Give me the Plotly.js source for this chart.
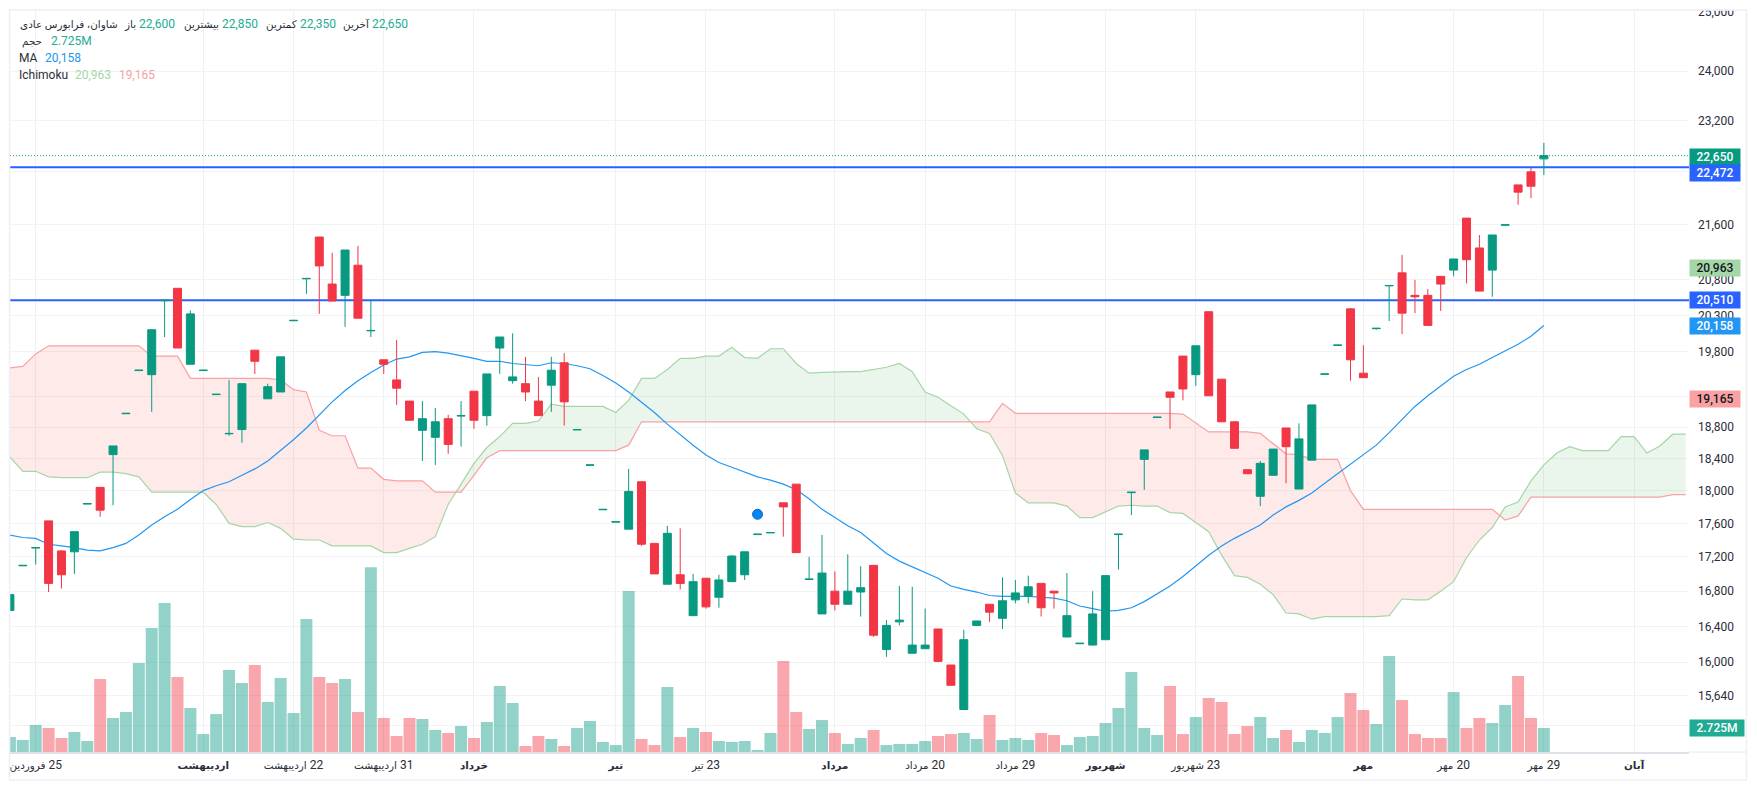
<!DOCTYPE html>
<html><head><meta charset="utf-8">
<script src="https://cdn.plot.ly/plotly-3.0.1.min.js"></script>
<style>html,body{margin:0;padding:0;background:#fff}#c{width:1757px;height:790px}</style>
</head><body><div id="c"></div>
<script>
const open_=[16580,17095,17305,17630,17270,17260,17835,18040,18450,18975,19545,19490,20505,20680,19630,19545,19225,18715,18770,19820,19170,19260,20225,20815,21420,20740,20580,21010,20085,19690,19420,19140,18760,18670,18910,18945,19270,18950,19850,19410,19370,19140,19350,19650,18765,18315,17765,17615,17530,18110,17360,16880,16990,16520,16950,16730,16910,16990,17465,17485,17850,18080,16935,16540,16800,16650,16790,17100,16140,16450,16100,16150,16370,15970,15490,16410,16650,16490,16700,16740,16890,16800,16280,16205,16190,16250,17465,17975,18390,18925,19260,19740,19490,20350,19430,18870,18260,17930,18190,18790,18020,18380,19495,19885,20390,19510,20115,20715,20900,20580,20580,20850,20940,21700,21260,20940,21595,22200,22400,22600];
const high=[16760,17100,17310,17630,17280,17500,17840,18040,18560,18980,19550,20100,20510,20680,20370,19550,19230,19420,19370,19820,19370,19730,20230,20820,21420,21190,21230,21290,20510,19690,19960,19140,19140,19050,18960,19140,19270,19500,20000,20050,19730,19460,19730,19780,18770,18320,17770,17620,18270,18110,17360,17570,17540,17000,16950,16990,17220,17260,17470,17490,17850,18080,17200,17460,17030,17230,17090,17100,16470,16860,16850,16600,16370,15970,16360,16460,16650,16960,16930,16980,16890,16800,17010,16210,16800,16980,17470,17980,18510,18930,19260,19740,19880,20350,19430,18880,18260,18370,18520,18790,18850,19090,19500,19890,20400,19890,20120,20720,21160,20800,20670,20850,21100,21700,21450,21450,21600,22200,22460,22850];
const low=[16580,17095,17110,16790,16830,17000,17835,17680,17820,18975,19545,19000,20000,19850,19630,19545,19225,18690,18600,19500,19170,19260,20225,20600,20320,20500,20140,20260,20000,19500,19090,18890,18370,18320,18460,18550,18780,18820,19500,19370,19140,18950,19000,18820,18765,18315,17765,17615,17530,17330,17000,16880,16820,16520,16600,16610,16910,16930,17465,17485,17440,17250,16935,16540,16580,16650,16510,16280,16060,16410,16100,16150,16000,15750,15490,16410,16450,16370,16660,16660,16510,16600,16280,16205,16190,16250,17050,17700,18010,18925,18780,19150,19340,19210,18870,18530,18210,17810,18190,18090,18020,18380,19495,19885,19410,19450,20100,20220,20040,20330,20160,20360,20850,20750,20640,20560,21595,21900,22000,22350];
const close_=[16760,17100,17310,16890,16990,17500,17840,17760,18560,18980,19550,20100,20510,19850,20320,19550,19230,18720,19370,19670,19330,19730,20230,20820,21000,20500,21230,20260,20090,19630,19310,18890,18910,18870,18580,18950,18890,19500,20000,19460,19260,18950,19550,19130,18770,18320,17770,17620,17990,17350,17000,17480,16890,16910,16620,16930,17210,17260,17470,17490,17800,17250,16940,17010,16650,16800,16840,16300,16410,16470,16190,16190,16010,15750,16250,16460,16560,16690,16780,16850,16610,16780,16520,16210,16540,16980,17470,17980,18510,18930,19190,19300,19880,19210,18870,18530,18210,18340,18520,18550,18650,19090,19500,19890,19690,19450,20120,20720,20330,20560,20160,20740,21100,21090,20640,21450,21600,22090,22180,22650];
const volumeM=[1.70,1.36,3.07,2.73,1.59,2.27,1.25,8.29,3.86,4.54,10.11,14.08,16.92,8.52,5.00,2.04,4.31,9.31,7.83,9.88,5.68,8.40,4.43,15.10,8.52,7.83,8.29,4.54,20.97,3.86,1.82,3.86,3.75,2.50,2.16,2.95,1.59,3.41,7.49,5.56,0.68,1.82,1.48,0.68,2.73,3.52,1.14,0.79,18.28,1.48,0.79,7.38,1.70,2.73,2.27,1.25,1.14,1.25,0.23,2.16,10.33,4.54,2.61,3.63,2.16,0.91,1.59,2.50,0.79,0.91,0.91,1.25,1.82,2.04,2.16,1.48,4.20,1.36,1.59,1.36,2.16,1.93,0.79,1.70,1.82,3.29,5.00,9.08,2.73,1.93,7.49,2.04,3.97,6.13,5.68,2.04,2.95,3.97,1.59,2.50,1.14,2.50,2.16,3.97,6.70,4.77,3.18,10.90,5.90,2.04,1.59,1.59,6.81,2.73,3.86,3.29,5.34,8.63,3.86,2.725];
const movingAvg=[17460,17430,17420,17350,17330,17310,17280,17270,17310,17360,17460,17580,17680,17770,17890,18000,18060,18110,18190,18270,18370,18500,18640,18790,18960,19130,19280,19410,19520,19620,19700,19730,19790,19800,19780,19750,19710,19670,19670,19640,19620,19610,19650,19640,19610,19570,19480,19380,19260,19130,18990,18840,18700,18570,18445,18350,18290,18230,18170,18130,18080,18010,17900,17770,17670,17570,17490,17360,17240,17150,17080,17010,16950,16860,16820,16790,16750,16740,16740,16740,16730,16720,16690,16630,16600,16570,16580,16610,16680,16770,16860,16970,17100,17220,17330,17420,17500,17580,17700,17800,17880,17970,18090,18210,18330,18450,18570,18730,18900,19070,19210,19340,19470,19560,19630,19720,19810,19900,20010,20158];
const spanA=[18420,18240,18240,18170,18160,18160,18160,18230,18230,18210,18170,17980,17980,17980,17980,17980,17830,17600,17560,17560,17610,17540,17410,17400,17400,17330,17330,17330,17330,17250,17250,17300,17350,17440,17830,18080,18340,18540,18680,18850,18850,18880,19100,19070,19070,19070,19070,18990,19150,19440,19440,19560,19710,19710,19740,19740,19860,19720,19710,19840,19840,19640,19510,19520,19530,19530,19530,19560,19590,19640,19530,19260,19190,19080,18970,18780,18720,18440,17970,17850,17850,17850,17810,17670,17670,17740,17810,17820,17810,17810,17730,17720,17610,17500,17220,16980,16960,16880,16760,16550,16540,16480,16510,16510,16510,16510,16510,16520,16710,16700,16700,16800,16910,17190,17400,17550,17800,17860,18120,18320,18470,18550,18500,18500,18500,18680,18680,18470,18560,18710,18710];
const spanB=[19580,19600,19770,19880,19880,19880,19880,19880,19880,19880,19880,19740,19740,19740,19440,19440,19440,19440,19440,19440,19440,19420,19290,19260,18760,18690,18690,18280,18280,18140,18120,18120,18120,17980,17980,17980,18190,18410,18500,18500,18500,18500,18500,18500,18500,18500,18500,18500,18570,18870,18870,18870,18870,18870,18870,18870,18870,18870,18870,18870,18870,18870,18870,18870,18870,18870,18870,18870,18870,18870,18870,18870,18870,18870,18870,18870,18870,19110,18980,18980,18980,18980,18980,18980,18980,18980,18980,18980,18980,18980,18980,18970,18860,18740,18740,18740,18740,18720,18590,18460,18450,18390,18390,18390,18000,17770,17770,17770,17770,17770,17770,17770,17770,17770,17770,17770,17640,17690,17920,17920,17920,17920,17920,17920,17920,17920,17920,17920,17920,17950,17950];
const tickPos=[2,15,22,29,36,47,54,64,71,78,85,92,105,112,119,126];
const tickMonths=['فروردین','اردیبهشت','اردیبهشت','اردیبهشت','خرداد','تیر','تیر','مرداد','مرداد','مرداد','شهریور','شهریور','مهر','مهر','مهر','آبان'];
const tickDays=[25,null,22,31,null,null,23,null,20,29,null,23,null,20,29,null];
const priceTicks=[25000,24000,23200,22400,21600,20800,20300,19800,19200,18800,18400,18000,17600,17200,16800,16400,16000,15640,15320];
const priceTickText=['25,000','24,000','23,200','22,400','21,600','20,800','20,300','19,800','19,200','18,800','18,400','18,000','17,600','17,200','16,800','16,400','16,000','15,640','15,320'];
const lastPrice=22650, level1=22472, level2=20510, spanALast=20963, spanBLast=19165, maLast=20158, volLast=2.725;
const markerPoint={i:58,price:17710};

const GREEN='#089981',RED='#F23645',BLUE='#2962FF',TXT='#2a2e39',FONT='Roboto, "Noto Sans", "DejaVu Sans", sans-serif';
const L=10,R=1689,T=11,B=752;
const fx=p=>(p-L)/(R-L), fy=p=>(B-p)/(B-T);
const xs=close_.map((_,i)=>i), cx=spanA.map((_,i)=>i);
const xr=[0.006,130.26], yr=[Math.log10(15045),Math.log10(25013)];
const small=t=>`<span style="font-size:10.4px">${t}</span>`;
const tickLabels=tickMonths.map((m,i)=>tickDays[i]===null?`<b>${small(m)}</b>`:`${small(m)}\u200E ${tickDays[i]}`);

// cloud polygons: split at crossings of the two spans so each colour closes exactly
const mx=[],ma=[],mb=[];
for(let i=0;i<cx.length;i++){
  mx.push(i);ma.push(spanA[i]);mb.push(spanB[i]);
  if(i<cx.length-1){
    const d0=Math.log(spanA[i]/spanB[i]),d1=Math.log(spanA[i+1]/spanB[i+1]);
    if(d0*d1<0){
      const t=d0/(d0-d1),v=Math.exp(Math.log(spanA[i])*(1-t)+Math.log(spanA[i+1])*t);
      mx.push(i+t);ma.push(v);mb.push(v);
    }
  }
}
const top_=ma.map((a,i)=>Math.max(a,mb[i]));
const fillT=(y,fill,color)=>({type:'scatter',mode:'lines',x:mx,y,line:{width:0},fill,fillcolor:color,yaxis:'y',hoverinfo:'skip',showlegend:false});
const hline=(v,color,w,dash)=>({type:'scatter',mode:'lines',x:xr,y:[v,v],line:{color,width:w,dash:dash||'solid'},yaxis:'y',hoverinfo:'skip',showlegend:false});

const traces=[
  fillT(mb,'none','rgba(0,0,0,0)'),
  fillT(top_,'tonexty','rgba(67,160,71,0.11)'),
  fillT(ma,'none','rgba(0,0,0,0)'),
  fillT(top_,'tonexty','rgba(244,67,54,0.11)'),
  {type:'scatter',mode:'lines',x:cx,y:spanA,line:{color:'#A5D6A7',width:1.2},yaxis:'y',hoverinfo:'skip',showlegend:false},
  {type:'scatter',mode:'lines',x:cx,y:spanB,line:{color:'#FAA1A4',width:1.2},yaxis:'y',hoverinfo:'skip',showlegend:false},
  {type:'scatter',mode:'lines',x:xs,y:movingAvg,line:{color:'#2196F3',width:1.2},yaxis:'y',hoverinfo:'skip',showlegend:false},
  hline(lastPrice,GREEN,1,'1px,2px'),
  hline(level1,BLUE,2),
  hline(level2,BLUE,2),
  {type:'scatter',mode:'markers',x:[markerPoint.i],y:[markerPoint.price],marker:{size:10,color:'#0085FA',line:{color:'#1565C0',width:1}},yaxis:'y',hoverinfo:'skip',showlegend:false},
  {type:'bar',x:xs,y:volumeM,width:0.93,yaxis:'y2',marker:{color:close_.map((c,i)=>c>=open_[i]?'rgba(8,153,129,0.44)':'rgba(242,54,69,0.44)'),line:{width:0}},hoverinfo:'skip',showlegend:false},
  {type:'candlestick',x:xs,open:open_,high,low,close:close_,yaxis:'y3',whiskerwidth:0,
   increasing:{line:{color:GREEN,width:1},fillcolor:GREEN},decreasing:{line:{color:RED,width:1},fillcolor:RED},hoverinfo:'skip',showlegend:false}
];

const lbl=(text,x,y,color,anchor,size)=>({text,xref:'paper',yref:'paper',x:fx(x),y:fy(y),xanchor:anchor||'left',yanchor:'middle',showarrow:false,font:{family:FONT,size:size||12,color},borderpad:0});
const tag=(text,v,bg,fg,axis,w,dy)=>({text,xref:'paper',x:1,xanchor:'left',yref:axis||'y',y:axis?v:Math.log10(v),yshift:dy||0,yanchor:'middle',showarrow:false,width:w||50,height:16.4,bgcolor:bg,borderpad:0,align:'center',valign:'middle',font:{family:FONT,size:12,color:fg,weight:500}});
const GT='#22AB94',FA=10.4;
const annotations=[
  lbl('شاوان، فرابورس عادی',118.5,24,TXT,'right',FA),
  lbl('باز',137,24,TXT,'right',FA),lbl('22,600',137.5,24,GT),
  lbl('بیشترین',220.5,24,TXT,'right',FA),lbl('22,850',221,24,GT),
  lbl('کمترین',298,24,TXT,'right',FA),lbl('22,350',298.5,24,GT),
  lbl('آخرین',370.5,24,TXT,'right',FA),lbl('22,650',371,24,GT),
  lbl('حجم',43,41,TXT,'right',FA),lbl('2.725M',50,41,GT),
  lbl('MA',18,58,TXT),lbl('20,158',44,58,'#2196F3'),
  lbl('Ichimoku',18,75,TXT),lbl('20,963',74,75,'#A5D6A7'),lbl('19,165',118,75,'#FAA1A4'),
  tag('22,650',lastPrice,GREEN,'#fff',null,50,-1),
  tag('22,472',level1,BLUE,'#fff',null,50,-6),
  tag('20,963',spanALast,'#A5D6A7','#131722'),
  tag('20,510',level2,BLUE,'#fff'),
  tag('20,158',maLast,'#2196F3','#fff'),
  tag('19,165',spanBLast,'#FAA1A4','#131722'),
  tag('2.725M',volLast,GT,'#fff','y2',54)
];
const pr=(x0,y0,x1,y1,extra)=>Object.assign({type:'rect',xref:'paper',yref:'paper',layer:'above',x0:fx(x0),x1:fx(x1),y0:fy(y0),y1:fy(y1),fillcolor:'#fff',line:{width:0}},extra||{});
const shapes=[
  pr(0,0,1757,10.3),pr(0,0,9.5,790),pr(1746.5,0,1757,790),pr(0,780,1757,790),
  pr(9.5,10,1746.5,780,{fillcolor:'rgba(0,0,0,0)',line:{color:'#EEF0F6',width:1.6}}),
  {type:'line',xref:'paper',yref:'paper',layer:'above',x0:fx(1689),x1:fx(1746),y0:0,y1:0,line:{color:'#E6E8EF',width:1}}
];
const hiddenY=(range,type)=>({domain:[0,1],overlaying:'y',side:'right',type,range,visible:false,fixedrange:true});
const layout={
  width:1757,height:790,margin:{l:L,r:1757-R,t:T,b:790-B,pad:0},
  paper_bgcolor:'#fff',plot_bgcolor:'#fff',showlegend:false,hovermode:false,dragmode:false,
  font:{family:FONT,size:12,color:TXT},boxgap:0.38,boxgroupgap:0,
  xaxis:{type:'linear',range:xr,tickmode:'array',tickvals:tickPos,ticktext:tickLabels,showgrid:true,gridcolor:'#F0F1F4',gridwidth:1,
    zeroline:false,showline:true,linecolor:'#DFE1E8',linewidth:1.5,ticks:'',tickfont:{family:FONT,size:12,color:TXT},tickangle:0,rangeslider:{visible:false},fixedrange:true,ticklabeloverflow:'allow',ticklabelstandoff:1},
  yaxis:{type:'log',range:yr,side:'right',tickmode:'array',tickvals:priceTicks,ticktext:priceTickText,showgrid:true,gridcolor:'#F2F3F5',gridwidth:1,
    zeroline:false,showline:false,ticks:'',tickfont:{family:FONT,size:12,color:TXT},ticklabelstandoff:8,ticklabeloverflow:'allow',fixedrange:true},
  yaxis2:hiddenY([0,84.14],'linear'),
  yaxis3:hiddenY(yr,'log'),
  annotations,shapes
};
Plotly.newPlot('c',traces,layout,{displayModeBar:false,staticPlot:true});
</script></body></html>
